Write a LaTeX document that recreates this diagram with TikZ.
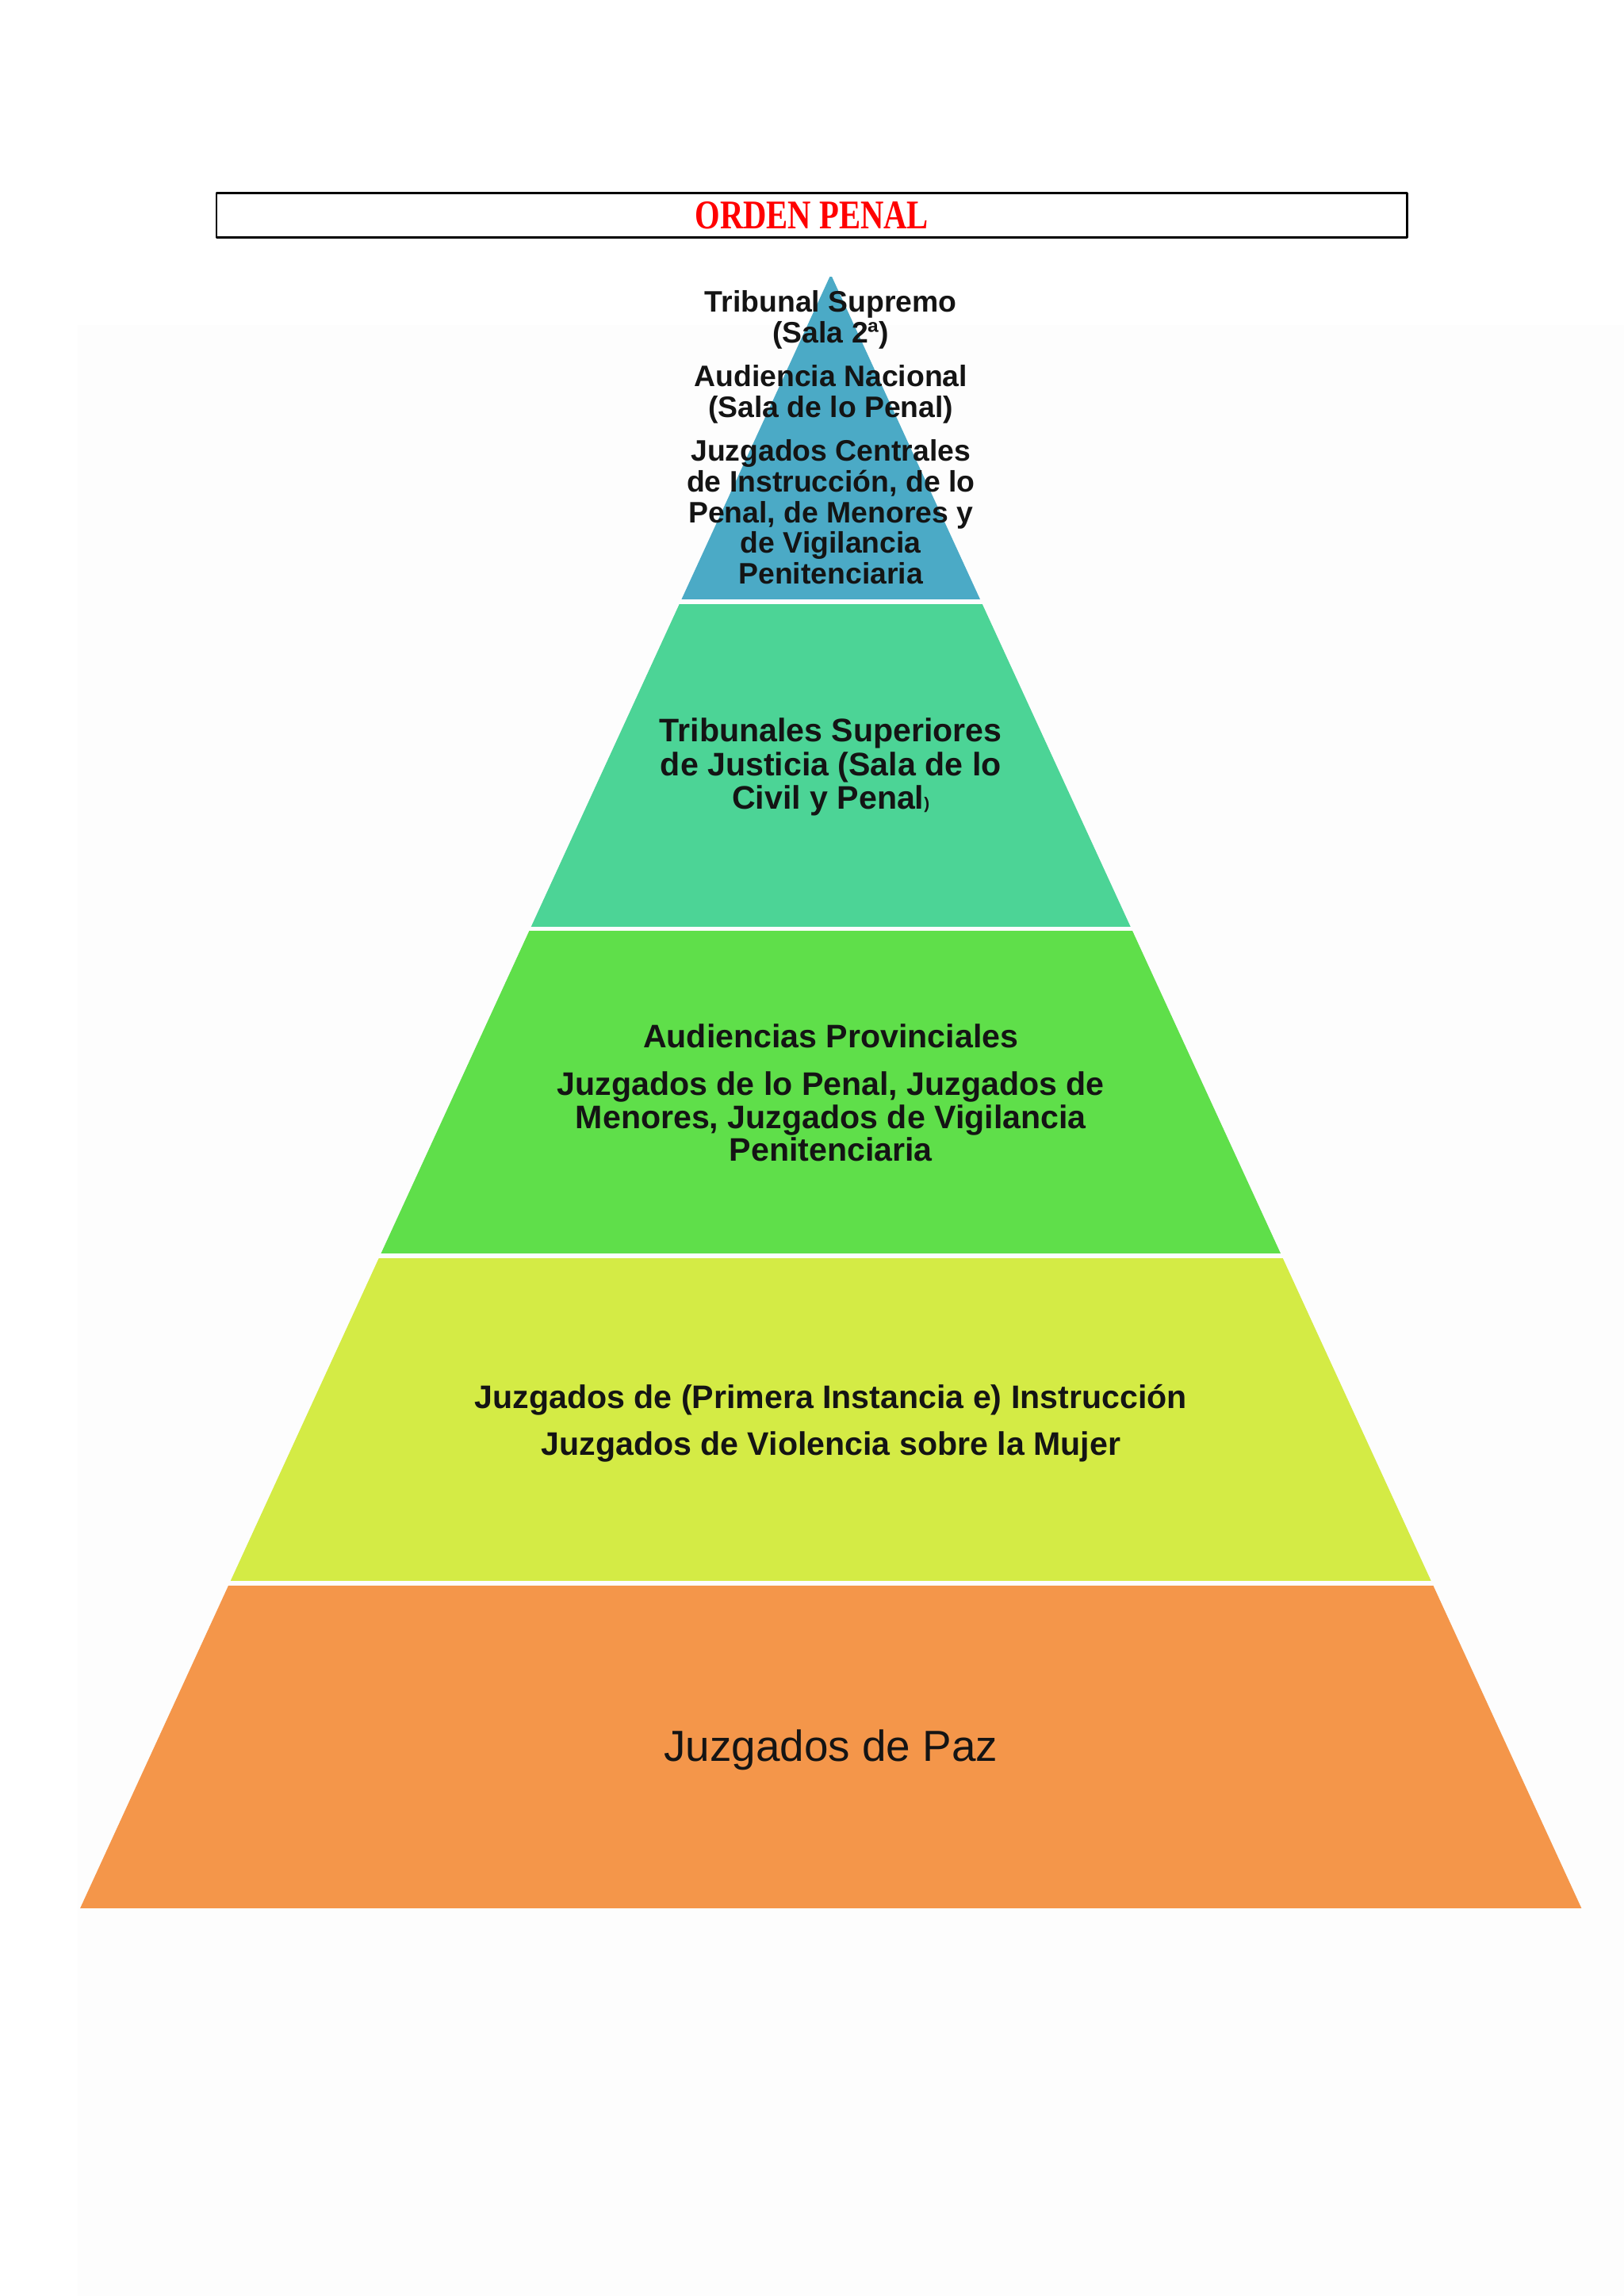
\documentclass[tikz,border=0pt]{standalone}
\usepackage{fontspec}
\setmainfont{Liberation Sans}
\newfontfamily\titulofont{Liberation Serif}[FakeStretch=0.79]

\definecolor{nivelazul}{RGB}{75,170,198}
\definecolor{nivelturquesa}{RGB}{76,212,150}
\definecolor{nivelverde}{RGB}{95,223,74}
\definecolor{nivelamarillo}{RGB}{212,235,69}
\definecolor{nivelnaranja}{RGB}{244,150,74}
\definecolor{titulorojo}{RGB}{255,0,0}

\begin{document}
\begin{tikzpicture}[x=1cm,y=1cm,line cap=round,line join=round,
        textonivel/.style={align=center,text=black!92}]
        \def\xC{10.745}
        \def\yB{4.99}
        \def\yA{26.15}
        \def\hB{9.72}
        \def\g{0.03}

        \useasboundingbox (0,0) rectangle (21,29.7);
        \fill[white] (0,0) rectangle (21,29.7);
        % Fondo muy claro de la imagen pegada
        \fill[black!0.7] (1.0,0) rectangle (21,25.5);

        % Recuadro del título
        \node[draw,line width=0.8pt,minimum width=15.4cm,minimum height=0.57cm,
            inner sep=0pt,text=titulorojo,
            font={\titulofont\bfseries\fontsize{15}{15}\selectfont}]
            (titulo) at (10.50,26.915) {ORDEN PENAL};

        % Niveles de la pirámide, recortados por el triángulo
        \begin{scope}
            \clip (\xC-\hB,\yB) -- (\xC+\hB,\yB) -- (\xC,\yA) -- cycle;
            \foreach \c/\ya/\yb in {nivelnaranja/4.99/9.222,
                    nivelamarillo/9.222/13.454,nivelverde/13.454/17.686,
                    nivelturquesa/17.686/21.918,nivelazul/21.918/26.15} {
                \fill[\c] (0,\ya+\g) rectangle (21,\yb-\g);
            }
        \end{scope}

        % Textos de cada nivel
        \node[textonivel,font={\bfseries\fontsize{10.9}{11.3}\selectfont}]
            (supremo) at (\xC,24.04)
            {Tribunal Supremo\\(Sala 2ª)\\[4.8pt]
             Audiencia Nacional\\(Sala de lo Penal)\\[4.8pt]
             Juzgados Centrales\\de Instrucción, de lo\\Penal, de Menores y\\
             de Vigilancia\\Penitenciaria};
        \node[textonivel,font={\bfseries\fontsize{12}{12.4}\selectfont}]
            (superiores) at (\xC,19.775)
            {Tribunales Superiores\\de Justicia (Sala de lo\\
             Civil y Penal{\fontsize{6}{6}\selectfont)}};
        \node[textonivel,font={\bfseries\fontsize{12}{12.1}\selectfont}]
            (provinciales) at (\xC,15.565)
            {Audiencias Provinciales\\[5.6pt]
             Juzgados de lo Penal, Juzgados de\\Menores, Juzgados de Vigilancia\\
             Penitenciaria};
        \node[textonivel,font={\bfseries\fontsize{12}{12.1}\selectfont}]
            (instruccion) at (\xC,11.29)
            {Juzgados de (Primera Instancia e) Instrucción\\[5.1pt]
             Juzgados de Violencia sobre la Mujer};
        \node[textonivel,font={\fontsize{16}{18}\selectfont}]
            (paz) at (\xC,7.06) {Juzgados de Paz};
\end{tikzpicture}
\end{document}
